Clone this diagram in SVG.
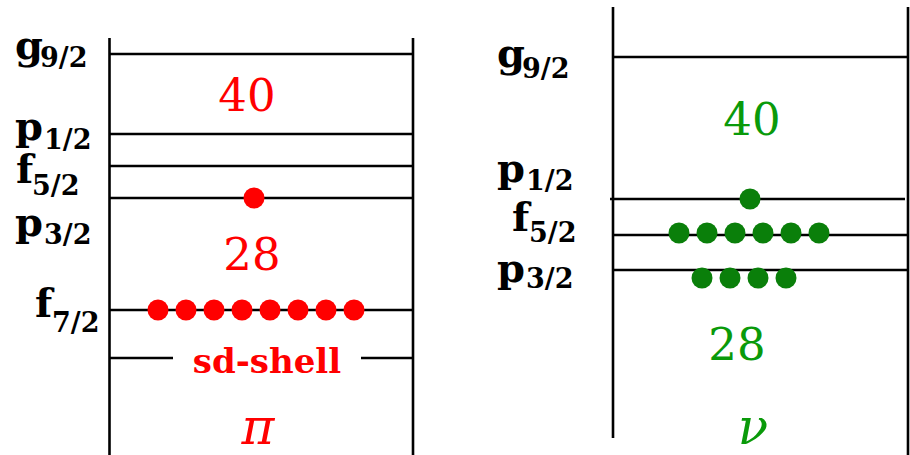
<svg xmlns="http://www.w3.org/2000/svg" width="910" height="455" viewBox="0 0 910 455">
<style>
.ln{stroke:#000;stroke-width:2.6;fill:none}
.lab{font-family:"DejaVu Serif",serif;font-weight:bold;font-size:40px;fill:#000}
.sub{font-size:27px}
.num{font-family:"DejaVu Serif",serif;font-size:45px;text-anchor:middle}
.gr{font-family:"DejaVu Serif",serif;font-style:italic;font-size:50px;text-anchor:middle}
.red{fill:#ff0000}
.grn{fill:#0a9a0a}
.dr{fill:#ff0000}
.dg{fill:#0a7f0a}
.sd{font-family:"DejaVu Serif",serif;font-weight:bold;font-size:34px;text-anchor:middle;fill:#ff0000}
</style>
<rect width="910" height="455" fill="#fff"/>
<g id="connectors">
  <line class="ln" x1="109.5" y1="38" x2="109.5" y2="455"/>
  <line class="ln" x1="413" y1="38" x2="413" y2="455"/>
  <line class="ln" x1="109.5" y1="54" x2="413" y2="54"/>
  <line class="ln" x1="109.5" y1="134" x2="413" y2="134"/>
  <line class="ln" x1="109.5" y1="166" x2="413" y2="166"/>
  <line class="ln" x1="109.5" y1="198" x2="413" y2="198"/>
  <line class="ln" x1="109.5" y1="310" x2="413" y2="310"/>
  <line class="ln" x1="109.5" y1="358" x2="173" y2="358"/>
  <line class="ln" x1="361" y1="358" x2="413" y2="358"/>
  <line class="ln" x1="613" y1="7" x2="613" y2="438"/>
  <line class="ln" x1="908" y1="7" x2="908" y2="455"/>
  <line class="ln" x1="613" y1="57" x2="908" y2="57"/>
  <line class="ln" x1="610" y1="199" x2="905" y2="199"/>
  <line class="ln" x1="613" y1="235" x2="908" y2="235"/>
  <line class="ln" x1="613" y1="270" x2="908" y2="270"/>
</g>
<g id="proton">
  <g id="p-labels">
    <text class="lab" x="15" y="59">g<tspan class="sub" x="40" y="67">9/2</tspan></text>
    <text class="lab" x="15" y="140">p<tspan class="sub" x="44" y="149">1/2</tspan></text>
    <text class="lab" x="16" y="183">f<tspan class="sub" x="32" y="195">5/2</tspan></text>
    <text class="lab" x="15" y="236">p<tspan class="sub" x="44" y="244">3/2</tspan></text>
    <text class="lab" x="35" y="317">f<tspan class="sub" x="52" y="332">7/2</tspan></text>
  </g>
  <text class="num red" x="247" y="111">40</text>
  <text class="num red" x="252" y="270">28</text>
  <text class="sd" x="267" y="373">sd-shell</text>
  <text class="gr red" x="258" y="444">π</text>
  <g id="p-dots" class="dr">
    <circle cx="254" cy="198" r="10.5"/>
    <circle cx="158" cy="310" r="10.5"/>
    <circle cx="186" cy="310" r="10.5"/>
    <circle cx="214" cy="310" r="10.5"/>
    <circle cx="242" cy="310" r="10.5"/>
    <circle cx="270" cy="310" r="10.5"/>
    <circle cx="298" cy="310" r="10.5"/>
    <circle cx="326" cy="310" r="10.5"/>
    <circle cx="354" cy="310" r="10.5"/>
  </g>
</g>
<g id="neutron">
  <g id="n-labels">
    <text class="lab" x="497" y="67">g<tspan class="sub" x="522" y="78">9/2</tspan></text>
    <text class="lab" x="497" y="182">p<tspan class="sub" x="526" y="190">1/2</tspan></text>
    <text class="lab" x="512" y="231">f<tspan class="sub" x="529" y="242">5/2</tspan></text>
    <text class="lab" x="497" y="282">p<tspan class="sub" x="526" y="288">3/2</tspan></text>
  </g>
  <text class="num grn" x="752" y="135">40</text>
  <text class="num grn" x="737" y="360">28</text>
  <text class="gr grn" x="753" y="444">ν</text>
  <g id="n-dots" class="dg">
    <circle cx="750" cy="199" r="10.5"/>
    <circle cx="679" cy="233" r="10.5"/>
    <circle cx="707" cy="233" r="10.5"/>
    <circle cx="735" cy="233" r="10.5"/>
    <circle cx="763" cy="233" r="10.5"/>
    <circle cx="791" cy="233" r="10.5"/>
    <circle cx="819" cy="233" r="10.5"/>
    <circle cx="702" cy="278" r="10.5"/>
    <circle cx="730" cy="278" r="10.5"/>
    <circle cx="758" cy="278" r="10.5"/>
    <circle cx="786" cy="278" r="10.5"/>
  </g>
</g>
</svg>
